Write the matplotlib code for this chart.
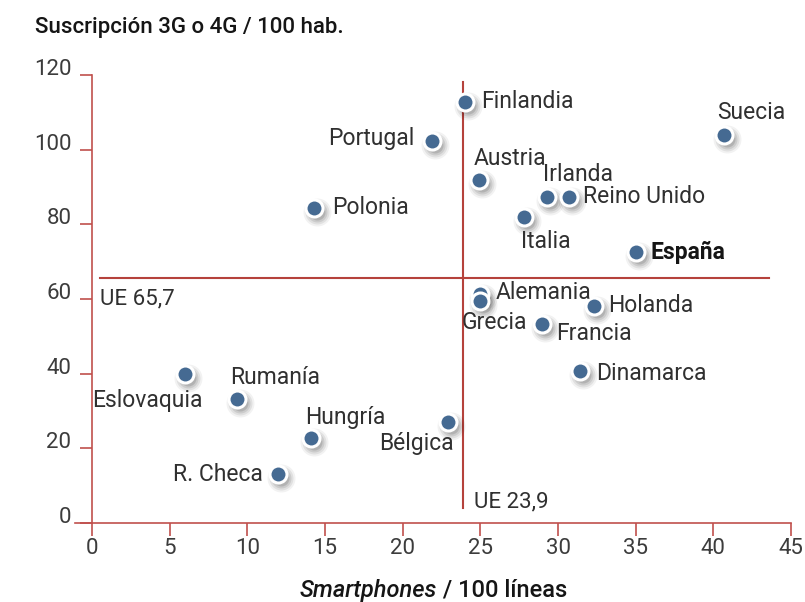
import matplotlib.pyplot as plt
import matplotlib.transforms as mtransforms

# Data
countries = ['Finlandia', 'Suecia', 'Portugal', 'Austria', 'Irlanda', 'Reino Unido',
             'Italia', 'Polonia', 'España', 'Alemania', 'Grecia', 'Holanda', 'Francia',
             'Dinamarca', 'Eslovaquia', 'Rumanía', 'Hungría', 'Bélgica', 'R. Checa']
smartphones = [24.0, 40.7, 21.9, 24.9, 29.3, 30.7, 27.8, 14.3, 35.0, 25.0, 25.0,
               32.3, 29.0, 31.4, 6.0, 9.3, 14.1, 22.9, 12.0]
suscripcion = [112.9, 104.0, 102.4, 92.0, 87.4, 87.4, 82.0, 84.5, 72.7, 61.4, 59.5,
               58.2, 53.4, 40.8, 40.0, 33.2, 22.8, 27.1, 13.1]
ue_x = 23.9
ue_y = 65.7
x_ticks = [0, 5, 10, 15, 20, 25, 30, 35, 40, 45]
y_ticks = [0, 20, 40, 60, 80, 100, 120]

# label placement (pixel offsets, alignment)
label_pos = {
    'Finlandia': (16, 0, 'left'), 'Suecia': (-7, 22, 'left'), 'Portugal': (-18, 2, 'right'),
    'Austria': (-5, 21, 'left'), 'Irlanda': (-4, 22, 'left'), 'Reino Unido': (14, 0, 'left'),
    'Italia': (-3, -25, 'left'), 'Polonia': (18, 0, 'left'), 'España': (15, -1, 'left'),
    'Alemania': (15, 1, 'left'), 'Grecia': (-19, -22, 'left'), 'Holanda': (14, 0, 'left'),
    'Francia': (14, -10, 'left'), 'Dinamarca': (16, -3, 'left'), 'Eslovaquia': (17, -27, 'right'),
    'Rumanía': (-6, 22, 'left'), 'Hungría': (-6, 20, 'left'), 'Bélgica': (6, -22, 'right'),
    'R. Checa': (-16, 0, 'right'),
}

plt.rcParams['font.family'] = ['Roboto', 'DejaVu Sans']
red = '#c0504d'
dark_red = '#b5423c'
txt = '#303030'
blue = '#456a92'

fig = plt.figure(figsize=(8.05, 6.02), dpi=100)
ax = fig.add_axes([75 / 805, 79 / 602, 716 / 805, 448 / 602])
ax.set_xlim(-1.1, 45)
ax.set_ylim(0, 120)

for s in ['top', 'right']:
    ax.spines[s].set_visible(False)
ax.spines['left'].set_position(('data', 0))
ax.spines['left'].set_color(red)
ax.spines['bottom'].set_color(red)
ax.spines['left'].set_linewidth(1.2)
ax.spines['bottom'].set_linewidth(1.2)

ax.set_xticks(x_ticks)
ax.set_yticks(y_ticks)
ax.tick_params(axis='both', colors=red, length=9, width=1.2, labelcolor='#3c3c3c')
ax.tick_params(axis='x', labelsize=16, pad=2)
ax.tick_params(axis='y', labelsize=16, pad=6)
for lab in ax.get_yticklabels():
    lab.set_va('baseline')

# EU average lines
ax.plot([ue_x, ue_x], [4, 118], color=dark_red, lw=1.5, zorder=2)
ax.plot([0.5, 43.6], [ue_y, ue_y], color=dark_red, lw=1.5, zorder=2)
ax.annotate('UE 65,7', (0.5, ue_y), xytext=(0, -21), textcoords='offset pixels',
            ha='left', va='center', fontsize=16, color=txt)
ax.annotate('UE 23,9', (ue_x, 4), xytext=(11, 6), textcoords='offset pixels',
            ha='left', va='center', fontsize=16, color=txt)

# soft shadow under the points
for r, a in [(14, 0.05), (12, 0.07), (10, 0.09), (8, 0.12)]:
    tr = mtransforms.offset_copy(ax.transData, fig=fig, x=3, y=-4, units='dots')
    ax.scatter(smartphones, suscripcion, s=(r * 72 / 100 * 2) ** 2, color='black',
               alpha=a, lw=0, transform=tr, zorder=3, clip_on=False)

ax.scatter(smartphones, suscripcion, s=150, color=blue, edgecolors='white',
           linewidths=2.2, zorder=4, clip_on=False)

for name, xv, yv in zip(countries, smartphones, suscripcion):
    dx, dy, ha = label_pos[name]
    bold = name == 'España'
    ax.annotate(name, (xv, yv), xytext=(dx, dy), textcoords='offset pixels',
                ha=ha, va='center', fontsize=16.5, zorder=5,
                color='#151515' if bold else txt,
                fontweight='bold' if bold else 'normal')

fig.text(35 / 805, 1 - 28 / 602, 'Suscripción 3G o 4G / 100 hab.', fontsize=16,
         fontweight='medium', color='#151515', ha='left', va='center')

t1 = fig.text(300 / 805, 1 - 590 / 602, 'Smartphones', fontsize=17, style='italic',
              fontweight='medium', color='#151515', ha='left', va='center')
ax.annotate(' / 100 líneas', xy=(1, 0), xycoords=t1, va='bottom', ha='left',
            fontsize=17, fontweight='medium', color='#151515', annotation_clip=False)

fig.savefig('out.png', dpi=100)
